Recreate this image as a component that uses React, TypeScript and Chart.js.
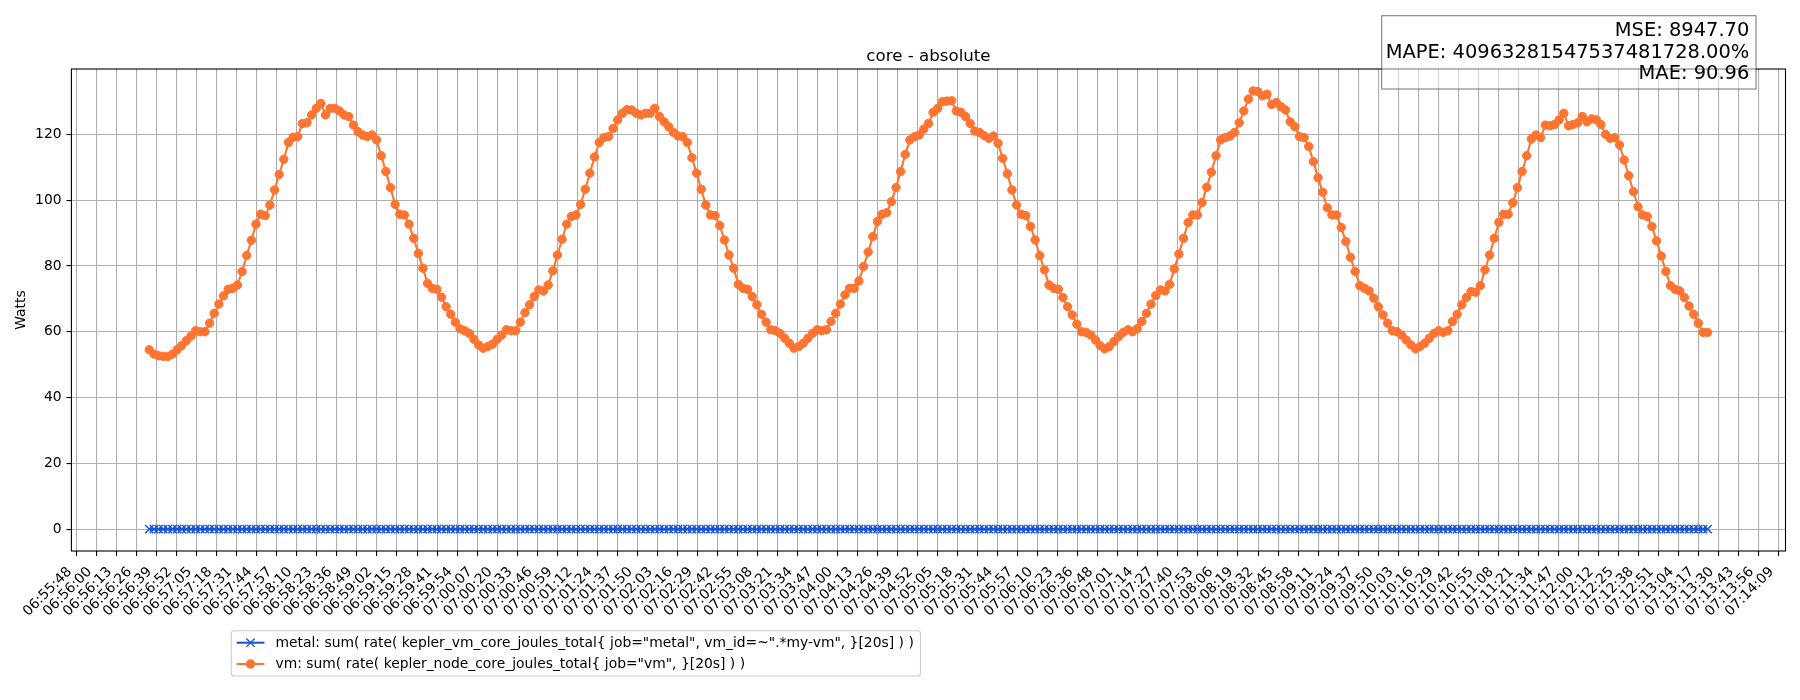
import React, { useEffect, useRef } from "react";
import { Chart, registerables } from "chart.js";

Chart.register(...registerables);

const CHART_TITLE = "core - absolute";
const Y_AXIS_LABEL = "Watts";
const SERIES_LABELS = [
  'metal: sum( rate( kepler_vm_core_joules_total{ job="metal", vm_id=~".*my-vm", }[20s] ) )',
  'vm: sum( rate( kepler_node_core_joules_total{ job="vm", }[20s] ) )',
];
const METRIC_LINES = ["MSE: 8947.70", "MAPE: 40963281547537481728.00%", "MAE: 90.96"];
const SERIES_COLORS = ["#1856d4", "#fe7430"];

const FIRST_SAMPLE_TIME = "06:56:35";
const SAMPLE_STEP_SECONDS = 3;

const X_TICK_LABELS = [
  "06:55:48", "06:56:00", "06:56:13", "06:56:26", "06:56:39", "06:56:52", "06:57:05", "06:57:18", "06:57:31", "06:57:44",
  "06:57:57", "06:58:10", "06:58:23", "06:58:36", "06:58:49", "06:59:02", "06:59:15", "06:59:28", "06:59:41", "06:59:54",
  "07:00:07", "07:00:20", "07:00:33", "07:00:46", "07:00:59", "07:01:12", "07:01:24", "07:01:37", "07:01:50", "07:02:03",
  "07:02:16", "07:02:29", "07:02:42", "07:02:55", "07:03:08", "07:03:21", "07:03:34", "07:03:47", "07:04:00", "07:04:13",
  "07:04:26", "07:04:39", "07:04:52", "07:05:05", "07:05:18", "07:05:31", "07:05:44", "07:05:57", "07:06:10", "07:06:23",
  "07:06:36", "07:06:48", "07:07:01", "07:07:14", "07:07:27", "07:07:40", "07:07:53", "07:08:06", "07:08:19", "07:08:32",
  "07:08:45", "07:08:58", "07:09:11", "07:09:24", "07:09:37", "07:09:50", "07:10:03", "07:10:16", "07:10:29", "07:10:42",
  "07:10:55", "07:11:08", "07:11:21", "07:11:34", "07:11:47", "07:12:00", "07:12:12", "07:12:25", "07:12:38", "07:12:51",
  "07:13:04", "07:13:17", "07:13:30", "07:13:43", "07:13:56", "07:14:09",
];
const Y_TICK_VALUES = [0, 20, 40, 60, 80, 100, 120];

const METAL_VALUES = [
  0, 0, 0, 0, 0, 0, 0, 0, 0, 0,
  0, 0, 0, 0, 0, 0, 0, 0, 0, 0,
  0, 0, 0, 0, 0, 0, 0, 0, 0, 0,
  0, 0, 0, 0, 0, 0, 0, 0, 0, 0,
  0, 0, 0, 0, 0, 0, 0, 0, 0, 0,
  0, 0, 0, 0, 0, 0, 0, 0, 0, 0,
  0, 0, 0, 0, 0, 0, 0, 0, 0, 0,
  0, 0, 0, 0, 0, 0, 0, 0, 0, 0,
  0, 0, 0, 0, 0, 0, 0, 0, 0, 0,
  0, 0, 0, 0, 0, 0, 0, 0, 0, 0,
  0, 0, 0, 0, 0, 0, 0, 0, 0, 0,
  0, 0, 0, 0, 0, 0, 0, 0, 0, 0,
  0, 0, 0, 0, 0, 0, 0, 0, 0, 0,
  0, 0, 0, 0, 0, 0, 0, 0, 0, 0,
  0, 0, 0, 0, 0, 0, 0, 0, 0, 0,
  0, 0, 0, 0, 0, 0, 0, 0, 0, 0,
  0, 0, 0, 0, 0, 0, 0, 0, 0, 0,
  0, 0, 0, 0, 0, 0, 0, 0, 0, 0,
  0, 0, 0, 0, 0, 0, 0, 0, 0, 0,
  0, 0, 0, 0, 0, 0, 0, 0, 0, 0,
  0, 0, 0, 0, 0, 0, 0, 0, 0, 0,
  0, 0, 0, 0, 0, 0, 0, 0, 0, 0,
  0, 0, 0, 0, 0, 0, 0, 0, 0, 0,
  0, 0, 0, 0, 0, 0, 0, 0, 0, 0,
  0, 0, 0, 0, 0, 0, 0, 0, 0, 0,
  0, 0, 0, 0, 0, 0, 0, 0, 0, 0,
  0, 0, 0, 0, 0, 0, 0, 0, 0, 0,
  0, 0, 0, 0, 0, 0, 0, 0, 0, 0,
  0, 0, 0, 0, 0, 0, 0, 0, 0, 0,
  0, 0, 0, 0, 0, 0, 0, 0, 0, 0,
  0, 0, 0, 0, 0, 0, 0, 0, 0, 0,
  0, 0, 0, 0, 0, 0, 0, 0, 0, 0,
  0, 0, 0, 0, 0, 0, 0, 0, 0, 0,
  0, 0, 0, 0, 0, 0, 0,
];

const VM_VALUES = [
  54.5, 53.2, 52.7, 52.5, 52.5, 53.2, 54.5, 55.8, 57.3, 58.7,
  60.3, 60.0, 60.0, 62.6, 65.6, 68.4, 70.9, 72.9, 73.2, 74.2,
  78.3, 83.2, 87.8, 92.7, 95.7, 95.3, 98.5, 103.1, 107.8, 112.4,
  117.5, 119.1, 119.3, 123.3, 123.5, 125.9, 127.9, 129.4, 125.9, 127.9,
  127.9, 127.1, 125.9, 125.4, 122.8, 120.8, 119.8, 119.3, 119.8, 118.3,
  113.5, 108.7, 103.8, 98.7, 95.7, 95.5, 92.7, 88.4, 83.8, 79.3,
  74.7, 73.2, 72.9, 70.5, 67.6, 65.3, 62.9, 60.9, 60.3, 59.5,
  57.7, 56.0, 55.0, 55.5, 56.2, 57.7, 59.0, 60.6, 60.3, 60.3,
  62.9, 65.8, 68.2, 70.7, 72.7, 72.4, 74.2, 78.5, 83.3, 88.1,
  92.7, 95.0, 95.5, 98.7, 103.3, 108.2, 113.1, 117.5, 119.0, 119.3,
  121.8, 124.4, 126.4, 127.5, 127.4, 126.4, 125.9, 126.4, 126.4, 127.9,
  125.4, 123.8, 122.3, 120.6, 119.5, 119.3, 117.5, 112.9, 108.2, 103.3,
  98.5, 95.5, 95.3, 92.3, 87.9, 83.3, 79.3, 74.4, 73.2, 72.9,
  70.7, 68.2, 65.3, 62.9, 60.6, 60.3, 59.5, 58.0, 56.5, 55.0,
  55.5, 56.5, 58.0, 59.5, 60.6, 60.3, 60.6, 63.1, 65.6, 68.4,
  71.2, 73.2, 73.2, 75.4, 79.8, 84.2, 88.9, 93.5, 95.7, 96.2,
  99.5, 103.8, 108.7, 113.9, 118.3, 119.3, 119.8, 121.6, 123.3, 126.7,
  127.9, 129.9, 130.1, 130.2, 127.1, 126.7, 125.4, 123.3, 121.0, 120.6,
  119.6, 118.8, 119.5, 117.3, 112.7, 108.0, 103.1, 98.5, 95.7, 95.3,
  92.0, 87.9, 83.1, 78.8, 74.2, 73.2, 72.9, 70.4, 67.6, 65.1,
  62.3, 60.0, 59.8, 59.0, 57.5, 55.8, 54.8, 55.5, 57.0, 58.5,
  59.8, 60.6, 60.0, 60.9, 63.1, 65.6, 68.4, 71.0, 72.7, 72.4,
  74.4, 79.1, 83.6, 88.4, 93.2, 95.5, 95.5, 99.3, 103.9, 108.5,
  113.5, 118.3, 119.0, 119.5, 120.6, 123.5, 127.1, 130.7, 133.2, 133.0,
  131.7, 132.2, 129.1, 129.7, 128.4, 127.4, 123.8, 122.3, 119.3, 119.0,
  116.3, 111.7, 106.8, 102.4, 97.7, 95.5, 95.5, 91.7, 87.4, 82.6,
  78.3, 74.0, 73.2, 72.4, 70.2, 67.6, 65.1, 62.6, 60.3, 60.0,
  59.0, 57.5, 56.0, 54.8, 55.5, 56.5, 58.0, 59.5, 60.3, 59.8,
  60.3, 63.1, 65.3, 68.2, 70.4, 72.2, 72.0, 74.0, 78.8, 83.3,
  88.4, 93.3, 95.7, 95.7, 99.2, 103.8, 108.7, 113.5, 118.6, 119.8,
  119.0, 122.8, 122.6, 123.0, 124.4, 126.4, 122.6, 123.0, 123.5, 125.4,
  123.8, 124.7, 124.4, 123.0, 120.0, 118.8, 119.0, 116.8, 112.2, 107.4,
  102.6, 98.0, 95.5, 95.0, 92.0, 87.6, 83.0, 78.3, 74.0, 72.9,
  72.4, 70.4, 67.8, 65.3, 62.6, 59.8, 59.8,
];

const FONT = '"DejaVu Sans", sans-serif';

function toSeconds(hms: string): number {
  const [h, m, s] = hms.split(":").map(Number);
  return h * 3600 + m * 60 + s;
}

const firstSample = toSeconds(FIRST_SAMPLE_TIME);
const sampleTimes = VM_VALUES.map((_, i) => firstSample + i * SAMPLE_STEP_SECONDS);
const xSpan = sampleTimes[sampleTimes.length - 1] - sampleTimes[0];
const X_MIN = sampleTimes[0] - 0.05 * xSpan;
const X_MAX = sampleTimes[sampleTimes.length - 1] + 0.05 * xSpan;
const allValues = [...METAL_VALUES, ...VM_VALUES];
const yLo = Math.min(...allValues);
const yHi = Math.max(...allValues);
const Y_MIN = yLo - 0.05 * (yHi - yLo);
const Y_MAX = yHi + 0.05 * (yHi - yLo);

const tickFirst = toSeconds(X_TICK_LABELS[0]);
const tickLast = toSeconds(X_TICK_LABELS[X_TICK_LABELS.length - 1]);
const X_TICK_VALUES = X_TICK_LABELS.map(
  (_, k) => tickFirst + (k * (tickLast - tickFirst)) / (X_TICK_LABELS.length - 1)
);

function drawCross(ctx: CanvasRenderingContext2D, x: number, y: number, arm: number, color: string) {
  ctx.save();
  ctx.strokeStyle = color;
  ctx.lineWidth = 1.39;
  ctx.beginPath();
  ctx.moveTo(x - arm, y - arm);
  ctx.lineTo(x + arm, y + arm);
  ctx.moveTo(x - arm, y + arm);
  ctx.lineTo(x + arm, y - arm);
  ctx.stroke();
  ctx.restore();
}

const decorations = {
  id: "decorations",
  afterDraw(chart: any) {
    const ctx: CanvasRenderingContext2D = chart.ctx;
    const ca = chart.chartArea;
    ctx.save();
    // axes frame
    ctx.strokeStyle = "#000";
    ctx.lineWidth = 1.1;
    ctx.strokeRect(ca.left, ca.top, ca.right - ca.left, ca.bottom - ca.top);

    // title
    ctx.fillStyle = "#000";
    ctx.font = `16.67px ${FONT}`;
    ctx.textAlign = "center";
    ctx.textBaseline = "alphabetic";
    ctx.fillText(CHART_TITLE, (ca.left + ca.right) / 2, ca.top - 8.3);

    // y label
    ctx.save();
    ctx.translate(21, (ca.top + ca.bottom) / 2);
    ctx.rotate(-Math.PI / 2);
    ctx.font = `13.89px ${FONT}`;
    ctx.textAlign = "center";
    ctx.textBaseline = "middle";
    ctx.fillText(Y_AXIS_LABEL, 0, 0);
    ctx.restore();

    // metrics box
    ctx.fillStyle = "rgba(255,255,255,0.5)";
    ctx.fillRect(1381.7, 15.7, 374.3, 73.3);
    ctx.strokeStyle = "rgba(0,0,0,0.5)";
    ctx.lineWidth = 1.1;
    ctx.strokeRect(1381.7, 15.7, 374.3, 73.3);
    ctx.fillStyle = "#000";
    ctx.font = `19.44px ${FONT}`;
    ctx.textAlign = "right";
    ctx.textBaseline = "alphabetic";
    const baselines = [36, 57.7, 79.3];
    METRIC_LINES.forEach((t, i) => ctx.fillText(t, 1749.3, baselines[i]));

    // legend
    ctx.fillStyle = "rgba(255,255,255,0.8)";
    ctx.strokeStyle = "#cccccc";
    ctx.lineWidth = 1.1;
    ctx.beginPath();
    (ctx as any).roundRect(231.3, 630.7, 689.2, 45.3, 3);
    ctx.fill();
    ctx.stroke();
    const rows = [642.7, 664];
    ctx.font = `13.89px ${FONT}`;
    ctx.textAlign = "left";
    ctx.textBaseline = "middle";
    SERIES_LABELS.forEach((label, i) => {
      const y = rows[i];
      const color = SERIES_COLORS[i];
      ctx.strokeStyle = color;
      ctx.lineWidth = 2.08;
      ctx.beginPath();
      ctx.moveTo(236.6, y);
      ctx.lineTo(264.4, y);
      ctx.stroke();
      if (i === 0) {
        drawCross(ctx, 250.5, y, 4.17, color);
      } else {
        ctx.fillStyle = color;
        ctx.beginPath();
        ctx.arc(250.5, y, 4.7, 0, Math.PI * 2);
        ctx.fill();
      }
      ctx.fillStyle = "#000";
      ctx.fillText(label, 275.5, y + 0.5);
    });
    ctx.restore();
  },
};

export default function App() {
  const canvasRef = useRef<HTMLCanvasElement | null>(null);

  useEffect(() => {
    if (!canvasRef.current) return;
    const chart = new Chart(canvasRef.current, {
      type: "line",
      data: {
        datasets: [
          {
            label: SERIES_LABELS[0],
            data: METAL_VALUES.map((v, i) => ({ x: sampleTimes[i], y: v })),
            borderColor: SERIES_COLORS[0],
            backgroundColor: SERIES_COLORS[0],
            borderWidth: 2.08,
            pointStyle: "crossRot",
            pointRadius: 5.9,
            pointBorderWidth: 1.5,
            pointBorderColor: SERIES_COLORS[0],
            pointBackgroundColor: SERIES_COLORS[0],
            tension: 0,
          },
          {
            label: SERIES_LABELS[1],
            data: VM_VALUES.map((v, i) => ({ x: sampleTimes[i], y: v })),
            borderColor: SERIES_COLORS[1],
            backgroundColor: SERIES_COLORS[1],
            borderWidth: 2.08,
            pointStyle: "circle",
            pointRadius: 4.2,
            pointBorderWidth: 1,
            pointBorderColor: SERIES_COLORS[1],
            pointBackgroundColor: SERIES_COLORS[1],
            tension: 0,
          },
        ],
      },
      options: {
        responsive: false,
        animation: false,
        devicePixelRatio: 1,
        layout: { padding: { top: 69, right: 14.5, left: 0, bottom: 0 } },
        plugins: {
          legend: { display: false },
          tooltip: { enabled: false },
          title: { display: false },
        },
        scales: {
          x: {
            type: "linear",
            min: X_MIN,
            max: X_MAX,
            afterBuildTicks: (scale: any) => {
              scale.ticks = X_TICK_VALUES.map((v) => ({ value: v }));
            },
            afterFit: (scale: any) => {
              scale.height = 149;
              scale.paddingLeft = 0;
              scale.paddingRight = 0;
            },
            ticks: {
              autoSkip: false,
              minRotation: 45,
              maxRotation: 45,
              padding: 8,
              labelOffset: -7,
              color: "#000",
              font: { family: FONT, size: 13.89 },
              callback: (_v: any, idx: number) => X_TICK_LABELS[idx],
            },
            grid: { color: "#b0b0b0", lineWidth: 1.1, tickColor: "#000", tickLength: 4.9 },
            border: { display: false },
          },
          y: {
            type: "linear",
            min: Y_MIN,
            max: Y_MAX,
            afterBuildTicks: (scale: any) => {
              scale.ticks = Y_TICK_VALUES.map((v) => ({ value: v }));
            },
            afterFit: (scale: any) => {
              scale.width = 71.4;
            },
            ticks: {
              padding: 4.9,
              color: "#000",
              font: { family: FONT, size: 13.89 },
              callback: (v: any) => String(v),
            },
            grid: { color: "#b0b0b0", lineWidth: 1.1, tickColor: "#000", tickLength: 4.9 },
            border: { display: false },
          },
        },
      },
      plugins: [decorations],
    } as any);
    return () => chart.destroy();
  }, []);

  return (
    <div style={{ position: "absolute", left: 0, top: 0, width: 1800, height: 700, background: "#fff" }}>
      <canvas ref={canvasRef} width={1800} height={700} style={{ display: "block", width: 1800, height: 700 }} />
    </div>
  );
}
